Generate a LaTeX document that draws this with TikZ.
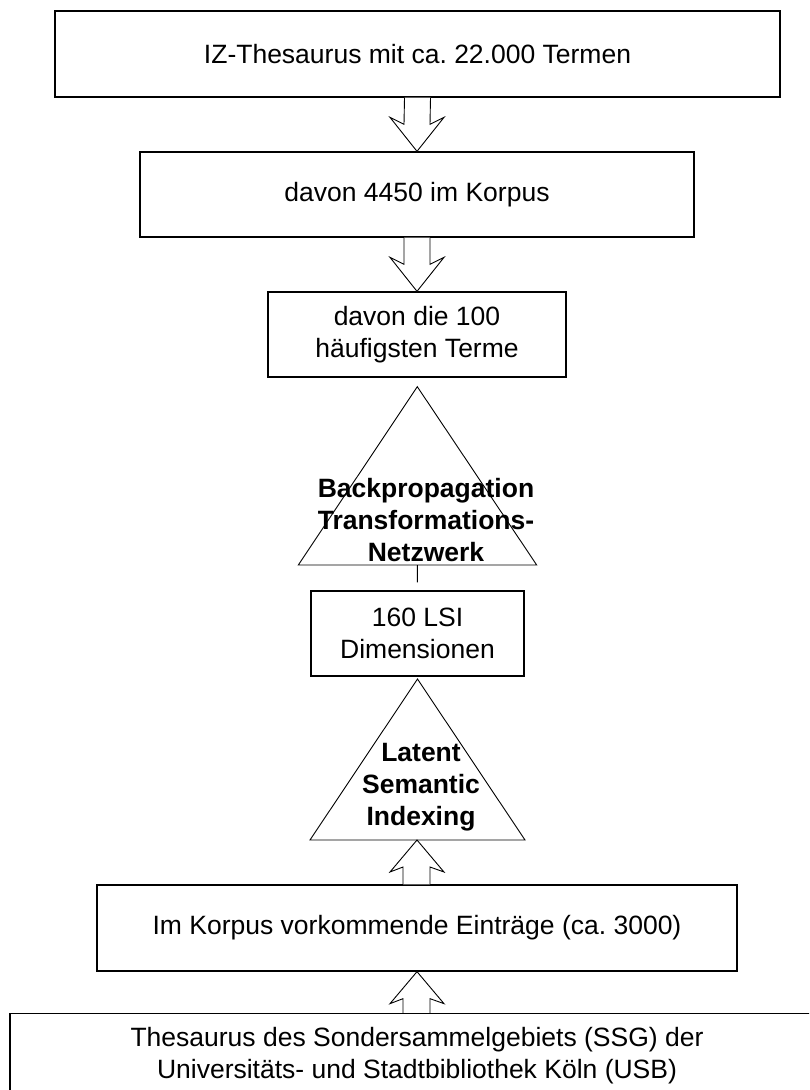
\documentclass[tikz,border=0pt]{standalone}
\usepackage{fontspec}
\setmainfont{Liberation Sans}
\usetikzlibrary{calc}
\frenchspacing
\begin{document}
\begin{tikzpicture}[x=1pt,y=-1pt,
  box/.style={draw=black,line width=1.3pt,fill=white,align=center,inner sep=0pt},
  tri/.style={draw=black,line width=0.9pt},
  blk/.style={draw=black,line width=0.9pt,fill=white,line join=miter},
  lbl/.style={align=center,inner sep=0pt,font=\fontsize{26.5}{32}\selectfont\bfseries},
  every node/.append style={font=\fontsize{26.5}{32}\selectfont}]
\useasboundingbox (0,0) rectangle (809,1090);
\clip (0,0) rectangle (809,1090);
\fill[white] (0,0) rectangle (809,1090);
% boxes
\node[box,minimum width=725pt,minimum height=86pt] (b1) at (417.5,54) {IZ-Thesaurus mit ca. 22.000 Termen};
\node[box,minimum width=554pt,minimum height=85pt] (b2) at (417,194.5) {davon 4450 im Korpus};
\node[box,minimum width=298pt,minimum height=85pt] (b3) at (417,334.5) {davon die 100\\häufigsten Terme};
\node[box,minimum width=213pt,minimum height=85pt] (b4) at (417.5,633.5) {160 LSI\\Dimensionen};
\node[box,minimum width=640pt,minimum height=86pt] (b5) at (417,928) {Im Korpus vorkommende Einträge (ca. 3000)};
\node[box,minimum width=814pt,minimum height=85pt] (b6) at (417,1056) {Thesaurus des Sondersammelgebiets (SSG) der\\Universitäts- und Stadtbibliothek Köln (USB)};
% triangle 1
\coordinate (t1a) at (417.3,386.7);
\coordinate (t1l) at (298.3,565);
\coordinate (t1r) at (536.7,565);
\coordinate (t1b) at (417.3,565);
\draw[tri] (t1a) -- (t1l) -- (t1r) -- cycle;
\node[lbl] (t1t) at (426,520) {Backpropagation\\Transformations-\\Netzwerk};
% triangle 2
\coordinate (t2a) at (417.5,679);
\coordinate (t2l) at (310,840);
\coordinate (t2r) at (525,840);
\coordinate (t2b) at (417,840);
\draw[tri] (t2a) -- (t2l) -- (t2r) -- cycle;
\node[lbl] (t2t) at (421,787) {Latent\\Semantic\\Indexing};
% connector triangle 1 -> box 4
\draw[line width=0.9pt,shorten >=8pt] (t1b) -- (b4.north);
% block arrows down
\draw[blk] ($(b1.south)+(-13,0)$) -- ($(b2.north)+(-13,-27)$) -- ($(b2.north)+(-27,-34)$) -- (b2.north) -- ($(b2.north)+(27,-34)$) -- ($(b2.north)+(13,-27)$) -- ($(b1.south)+(13,0)$);
\draw[blk] ($(b2.south)+(-13,0)$) -- ($(b3.north)+(-13,-27)$) -- ($(b3.north)+(-27,-34)$) -- (b3.north) -- ($(b3.north)+(27,-34)$) -- ($(b3.north)+(13,-27)$) -- ($(b2.south)+(13,0)$);
% block arrows up
\draw[blk] ($(b6.north)+(-14,0)$) -- ($(b5.south)+(-14,27)$) -- ($(b5.south)+(-27,32)$) -- (b5.south) -- ($(b5.south)+(27,32)$) -- ($(b5.south)+(13,27)$) -- ($(b6.north)+(13,0)$);
\draw[blk] ($(b5.north)+(-14,0)$) -- ($(t2b)+(-14,27)$) -- ($(t2b)+(-27,32)$) -- (t2b) -- ($(t2b)+(27,32)$) -- ($(t2b)+(13,27)$) -- ($(b5.north)+(13,0)$);
\end{tikzpicture}
\end{document}
